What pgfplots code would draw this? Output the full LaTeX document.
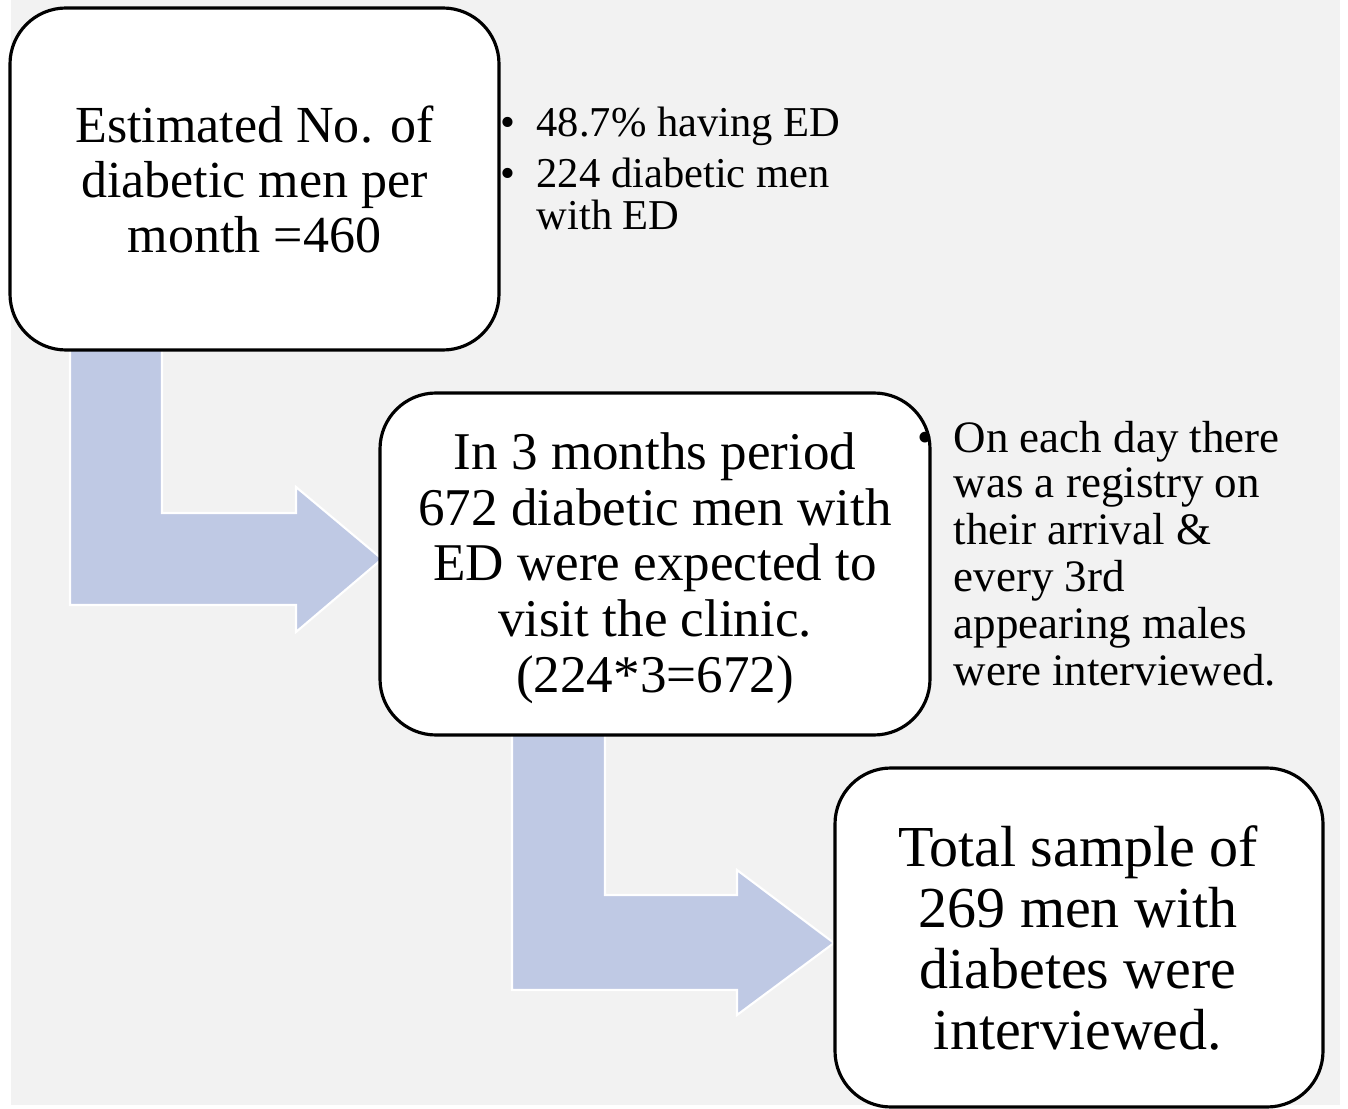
\documentclass[border=0pt]{standalone}
\usepackage{pgfplots}
\pgfplotsset{compat=1.18}
\usepackage{fontspec}
\setmainfont{Liberation Serif}
\definecolor{bggray}{HTML}{F2F2F2}
\definecolor{arrowblue}{HTML}{BFC9E4}
\begin{document}
\begin{tikzpicture}
\begin{axis}[
  width=13.48cm, height=11.09cm, scale only axis,
  xmin=0, xmax=1348, ymin=0, ymax=1109, y dir=reverse,
  hide axis, clip=false]
% page and background
\addplot[fill=white, draw=none] coordinates {(0,0) (1348,0) (1348,1109) (0,1109)} -- cycle;
\addplot[fill=bggray, draw=none] coordinates {(11,0) (1340,0) (1340,1105) (11,1105)} -- cycle;
% bent arrows
\addplot[fill=arrowblue, draw=white, line width=0.6pt] coordinates {
  (70,345) (162,345) (162,513) (296,513) (296,487) (382,559) (296,632) (296,605) (70,605)} -- cycle;
\addplot[fill=arrowblue, draw=white, line width=0.6pt] coordinates {
  (512,730) (605,730) (605,895) (737,895) (737,870) (834,943) (737,1015) (737,990) (512,990)} -- cycle;
% boxes
\addplot[fill=white, draw=black, line width=0.9pt, rounded corners=0.56cm] coordinates {
  (10,8) (499,8) (499,350) (10,350)} -- cycle;
\addplot[fill=white, draw=black, line width=0.9pt, rounded corners=0.56cm] coordinates {
  (380,393) (930,393) (930,735) (380,735)} -- cycle;
\addplot[fill=white, draw=black, line width=0.9pt, rounded corners=0.56cm] coordinates {
  (835,768) (1323,768) (1323,1107) (835,1107)} -- cycle;
% box texts
\node[align=center, inner sep=0, font=\fontsize{14.8pt}{15.65pt}\selectfont] at (axis cs:254.5,179)
  {Estimated No. of\\diabetic men per\\month =460};
\node[align=center, inner sep=0, font=\fontsize{15.1pt}{15.85pt}\selectfont] at (axis cs:655,568)
  {In 3 months period\\672 diabetic men with\\ED were expected to\\visit the clinic.\\(224*3=672)};
\node[align=center, inner sep=0, font=\fontsize{16.5pt}{17.35pt}\selectfont] at (axis cs:1078,938)
  {Total sample of\\269 men with\\diabetes were\\interviewed.};
% side notes 1
\begin{scope}[every node/.style={anchor=base west, inner sep=0, font=\fontsize{12.1pt}{12.2pt}\selectfont}]
\node at (axis cs:500,137) {\textbullet};
\node at (axis cs:500,188) {\textbullet};
\node at (axis cs:536,137) {48.7\% having ED};
\node at (axis cs:536,188) {224 diabetic men};
\node at (axis cs:536,230) {with ED};
\end{scope}
% side notes 2
\begin{scope}[every node/.style={anchor=base west, inner sep=0, font=\fontsize{12.8pt}{13pt}\selectfont}]
\node at (axis cs:917,452) {\textbullet};
\node at (axis cs:953,452) {On each day there};
\node at (axis cs:953,498) {was a registry on};
\node at (axis cs:953,544) {their arrival \&};
\node at (axis cs:953,591) {every 3rd};
\node at (axis cs:953,638) {appearing males};
\node at (axis cs:953,685) {were interviewed.};
\end{scope}
\end{axis}
\end{tikzpicture}
\end{document}
